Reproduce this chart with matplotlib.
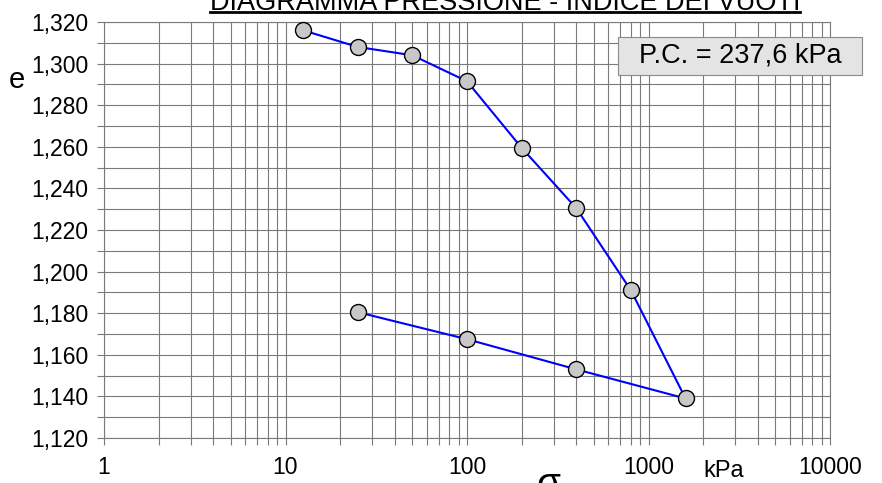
import matplotlib
matplotlib.use("Agg")
import matplotlib.pyplot as plt
from matplotlib.patches import Rectangle
from matplotlib.lines import Line2D
from matplotlib.ticker import FixedLocator, FuncFormatter, LogLocator, NullFormatter

plt.rcParams['font.family'] = ['Liberation Sans', 'DejaVu Sans']

# prova edometrica: carico 12.5 -> 1600 kPa, poi scarico fino a 25 kPa
sigma = [12.5, 25, 50, 100, 200, 400, 800, 1600, 400, 100, 25]
e_vuoti = [1.316, 1.308, 1.304, 1.2915, 1.2595, 1.2305, 1.191, 1.139, 1.153, 1.1675, 1.1805]

e_ticks = [1.12, 1.14, 1.16, 1.18, 1.20, 1.22, 1.24, 1.26, 1.28, 1.30, 1.32]
x_ticks = [1, 10, 100, 1000, 10000]
titolo = "DIAGRAMMA PRESSIONE - INDICE DEI VUOTI"
pc_label = "P.C. = 237,6 kPa"

W, H = 882, 483
fig = plt.figure(figsize=(W / 100, H / 100), dpi=100)
ax = fig.add_axes([104 / W, 1 - 438 / H, (830 - 104) / W, (438 - 22) / H])

grid_col = '#7a7a7a'
ax.set_xscale('log')
ax.set_xlim(1, 10000)
ax.set_ylim(1.12, 1.32)

ax.xaxis.set_major_locator(FixedLocator(x_ticks))
ax.xaxis.set_minor_locator(LogLocator(base=10, subs=range(2, 10), numticks=20))
ax.xaxis.set_major_formatter(FuncFormatter(lambda v, p: f"{v:.0f}"))
ax.xaxis.set_minor_formatter(NullFormatter())

ax.yaxis.set_major_locator(FixedLocator(e_ticks))
ax.yaxis.set_minor_locator(FixedLocator([1.12 + 0.01 * i for i in range(21)]))
ax.yaxis.set_major_formatter(FuncFormatter(lambda v, p: f"{v:.3f}".replace('.', ',')))

ax.grid(True, which='both', color=grid_col, linewidth=0.8)
ax.tick_params(which='both', direction='out', length=5, width=0.8, color=grid_col)
ax.tick_params(axis='y', which='major', labelsize=16.5, pad=6)
ax.tick_params(axis='x', which='major', labelsize=16.5, pad=8)
for s in ax.spines.values():
    s.set_color(grid_col)
    s.set_linewidth(0.8)

ax.plot(sigma, e_vuoti, color='#0000ff', linewidth=1.5, marker='o',
        markersize=11.5, markerfacecolor='#c8c8c8', markeredgecolor='black',
        markeredgewidth=1.0, zorder=5, clip_on=False)

# titolo tagliato in alto, sottolineato
t = fig.text(505 / W, 1 - 10 / H, titolo, ha='center', va='baseline', fontsize=19.5)
fig.canvas.draw()
bb = t.get_window_extent()
fig.add_artist(Line2D([bb.x0 / W, bb.x1 / W], [1 - 12 / H, 1 - 12 / H],
                      transform=fig.transFigure, color='black', linewidth=2))

# riquadro pressione di preconsolidazione
fig.add_artist(Rectangle((618 / W, 1 - 75 / H), (862 - 618) / W, (75 - 37) / H,
                         transform=fig.transFigure, facecolor='#e4e4e4',
                         edgecolor='#8a8a8a', linewidth=0.8, zorder=10))
fig.text(740 / W, 1 - 56 / H, pc_label, ha='center', va='center', fontsize=19.5, zorder=11)

fig.text(17 / W, 1 - 80 / H, "e", ha='center', va='center', fontsize=21)
fig.text(548 / W, 1 - 467 / H, "σ", ha='center', va='top', fontsize=28)
fig.text(724 / W, 1 - 460 / H, "kPa", ha='center', va='top', fontsize=17)

fig.savefig("out.png", dpi=100)
